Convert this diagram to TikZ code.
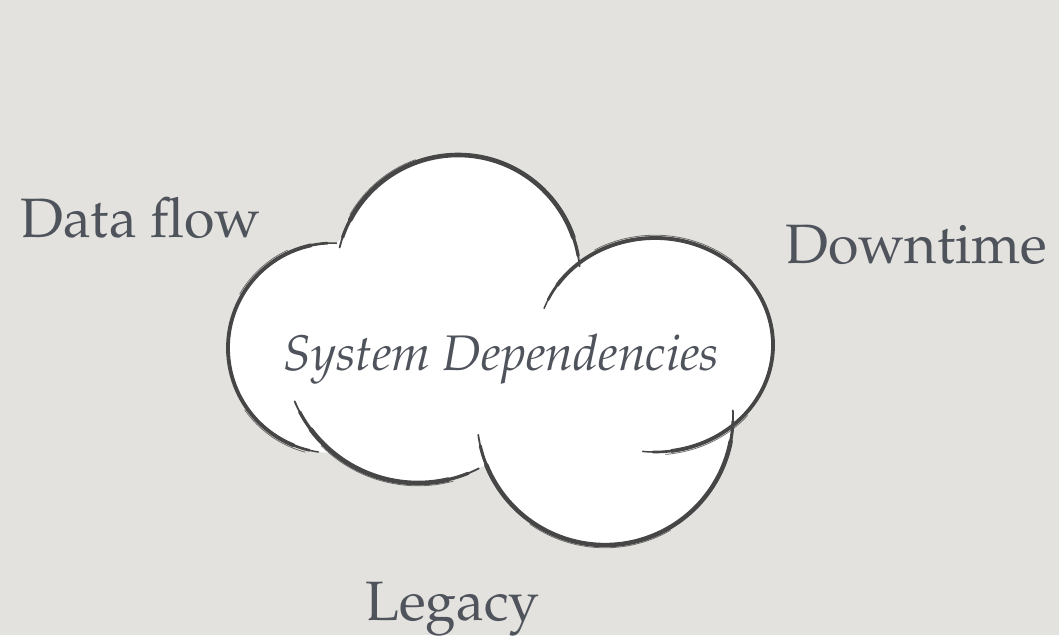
\documentclass[tikz,border=0pt]{standalone}
\usepackage[T1]{fontenc}
\usepackage{mathpazo}
\definecolor{bgc}{HTML}{E3E2DE}
\definecolor{txtc}{HTML}{4F535B}
\definecolor{inkc}{HTML}{464646}
\tikzset{
  lbl/.style={anchor=base west, inner sep=0pt, text=txtc, font=\fontsize{55.5}{60}\selectfont},
  ctr/.style={anchor=base west, inner sep=0pt, text=txtc, font=\fontsize{50}{56}\selectfont\itshape},
  ink/.style={draw=inkc, line cap=round},
  inkthin/.style={draw=inkc, line width=0.8pt, line cap=round, opacity=0.75},
}
% #1 center, #2 rx, #3 ry, #4 start, #5 end, #6 max width
\newcommand\brusharc[6]{%
  \pgfmathsetmacro\bsg{sign(#5-#4)}%
  \draw[ink, line width=0.4*#6] (#1) ++(#4:#2 and #3) arc[start angle=#4, end angle=#5, x radius=#2, y radius=#3];
  \pgfmathsetmacro\baa{#4+\bsg*5}\pgfmathsetmacro\bbb{#5-\bsg*5}%
  \draw[ink, line width=0.7*#6] (#1) ++(\baa:#2 and #3) arc[start angle=\baa, end angle=\bbb, x radius=#2, y radius=#3];
  \pgfmathsetmacro\baa{#4+\bsg*14}\pgfmathsetmacro\bbb{#5-\bsg*14}%
  \draw[ink, line width=#6] (#1) ++(\baa:#2 and #3) arc[start angle=\baa, end angle=\bbb, x radius=#2, y radius=#3];
}
\begin{document}
\begin{tikzpicture}[x=1pt,y=-1pt]
\useasboundingbox (0,0) rectangle (1059,635);
\fill[bgc] (0,0) rectangle (1059,635);
% cloud fill
\coordinate (c1) at (458,277);
\coordinate (c2) at (333,348);
\coordinate (c3) at (418,349);
\coordinate (c4) at (605,417);
\coordinate (c5) at (655,345);
\fill[white] (c1) circle[radius=122];
\fill[white] (c2) circle[radius=105];
\fill[white] (c3) circle[radius=134];
\fill[white] (c4) circle[radius=128];
\fill[white] (c5) ellipse[x radius=118, y radius=107];
% brush strokes
\brusharc{c1}{122}{122}{-166}{-5}{4.6}
\brusharc{c2}{105}{105}{-88}{-262}{3.8}
\brusharc{c3}{134}{134}{-203}{-297}{4.6}
\brusharc{c4}{128}{128}{-188}{-363}{4.4}
\brusharc{c5}{118}{107}{-160}{96}{3.8}
% second hairline of the brush
\draw[inkthin] (c1) ++(-150:124.8) arc[start angle=-150, end angle=-110, radius=124.8];
\draw[inkthin] (c2) ++(-115:107.8) arc[start angle=-115, end angle=-150, radius=107.8];
\draw[inkthin] (c2) ++(-215:107.8) arc[start angle=-215, end angle=-255, radius=107.8];
\draw[inkthin] (c3) ++(-225:136.8) arc[start angle=-225, end angle=-285, radius=136.8];
\draw[inkthin] (c4) ++(-235:130.8) arc[start angle=-235, end angle=-300, radius=130.8];
\draw[inkthin] (c5) ++(-120:120.8 and 109.8) arc[start angle=-120, end angle=-50, x radius=120.8, y radius=109.8];
\draw[inkthin] (c5) ++(40:120.8 and 109.8) arc[start angle=40, end angle=85, x radius=120.8, y radius=109.8];
% texts
\node[ctr] (sd) at (283,370) {System Dependencies};
\node[lbl] (df) at (20,237) {Data flow};
\node[lbl] (dt) at (785,263) {Downtime};
\node[lbl] (lg) at (365,620) {Legacy};
\end{tikzpicture}
\end{document}
